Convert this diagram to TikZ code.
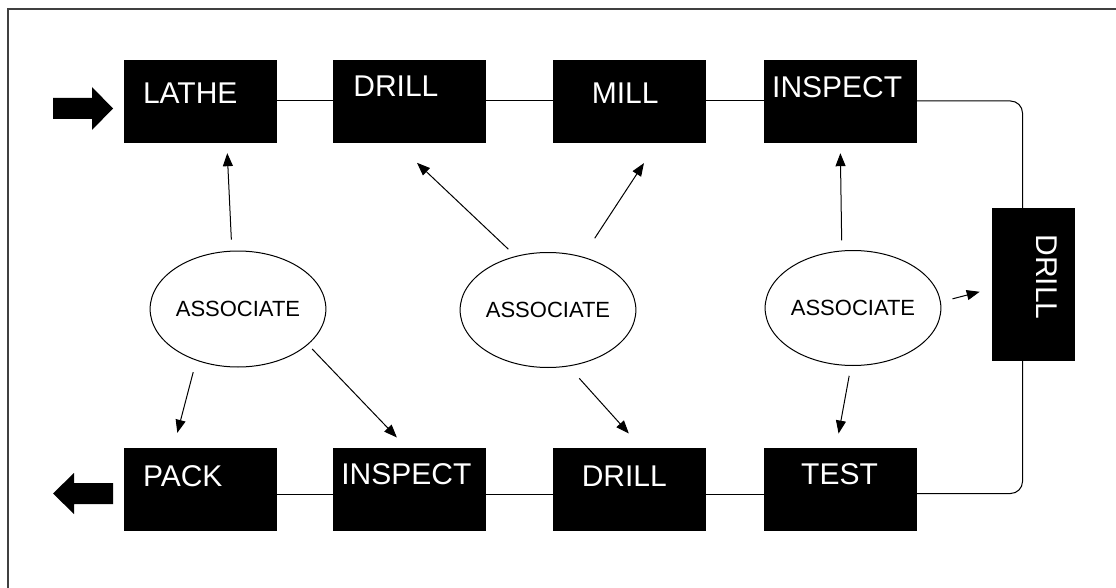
\documentclass[tikz,border=0pt]{standalone}
\usepackage{fontspec}
\setmainfont{Liberation Sans}
\usetikzlibrary{shapes.geometric, arrows.meta, positioning}

\begin{document}
\begin{tikzpicture}[
    x=1pt, y=-1pt,
    node distance=57pt,
    box/.style 2 args={rectangle, draw, fill=black, text=white, inner ysep=0pt, inner xsep=#1,
        /utils/exec={\pgfmathsetlengthmacro\boxwd{152pt-2*#1}\pgfmathsetlengthmacro\boxdp{82pt-#2}},
        text width=\boxwd, text height=#2, text depth=\boxdp, align=left,
        font=\fontsize{30}{36}\selectfont},
    assoc/.style={ellipse, draw, line width=1pt, minimum width=152pt, minimum height=116pt, inner sep=0pt,
        font=\fontsize{22}{26}\selectfont},
    line/.style={draw, line width=1pt},
    arr/.style={draw, line width=1pt, -{Triangle[length=13pt,width=10pt]}}
]
\useasboundingbox (0,0) rectangle (1116,588);
\draw[line width=1.2pt, black!75] (8,588) |- (1116,9);

% top row
\node[box={19pt}{44pt}] (lathe) at (200,101) {LATHE};
\node[box={20pt}{37pt}, right=of lathe] (drilla) {DRILL};
\node[box={39pt}{44pt}, right=67pt of drilla] (mill) {MILL};
\node[box={8pt}{38pt}, right=59pt of mill] (inspa) {INSPECT};

% bottom row
\node[box={19pt}{38pt}] (pack) at (200,489.5) {PACK};
\node[box={8pt}{36pt}, right=of pack] (inspb) {INSPECT};
\node[box={29pt}{38pt}, right=67pt of inspb] (drillb) {DRILL};
\node[box={37pt}{36pt}, right=59pt of drillb] (test) {TEST};

% turn
\node[box={26pt}{38pt}, rotate=-90] (rdrill) at (1033.5,284.5) {DRILL};

\node[assoc] (assoca) at (238,309) {ASSOCIATE};
\node[assoc, minimum width=148pt, minimum height=115pt] (assocb) at (548,310) {ASSOCIATE};
\node[assoc, minimum width=154pt, minimum height=115pt] (assocc) at (853,308) {ASSOCIATE};

% flow
\path[line] (lathe) -- (drilla);
\path[line] (drilla) -- (mill);
\path[line] (mill) -- (inspa);
\path[line, rounded corners=12pt] (inspa.east) -| ([xshift=-11pt]rdrill.west);
\path[line, rounded corners=12pt] ([yshift=-4pt]test.east) -| ([xshift=-11pt]rdrill.east);
\path[line] ([yshift=-5pt]drillb.east) -- ([yshift=-5pt]test.west);
\path[line] ([yshift=-5pt]inspb.east) -- ([yshift=-5pt]drillb.west);
\path[line] ([yshift=-5pt]pack.east) -- ([yshift=-5pt]inspb.west);

% in and out
\fill (53,98) -- (92,98) -- (92,87) -- (113,108.5) -- (92,130) -- (92,119) -- (53,119) -- cycle;
\fill (113,483) -- (74,483) -- (74,473) -- (53,493.5) -- (74,514) -- (74,504) -- (113,504) -- cycle;

% associations
\path[arr, shorten <=11pt, shorten >=11pt] (assoca.96) -- (lathe.-57);
\path[arr, shorten <=12pt, shorten >=16pt] (assoca.-129) -- (pack.123);
\path[arr, shorten <=6pt, shorten >=15pt] (assoca.-27) -- (inspb.93);
\path[arr, shorten <=10pt, shorten >=30pt] (assocb.121) -- (drilla.-109);
\path[arr, shorten <=22pt, shorten >=25pt] (assocb.57) -- (mill.-55);
\path[arr, shorten <=16pt, shorten >=20pt] (assocb.-70) -- (drillb.72);
\path[arr, shorten <=10pt, shorten >=11pt] (assocc.101) -- (inspa.south);
\path[arr, shorten <=12pt, shorten >=13pt] (assocc.4) -- ([yshift=-4pt]rdrill.south);
\path[arr, shorten <=10pt, shorten >=15pt] (assocc.-92) -- (test.96);

\end{tikzpicture}
\end{document}
